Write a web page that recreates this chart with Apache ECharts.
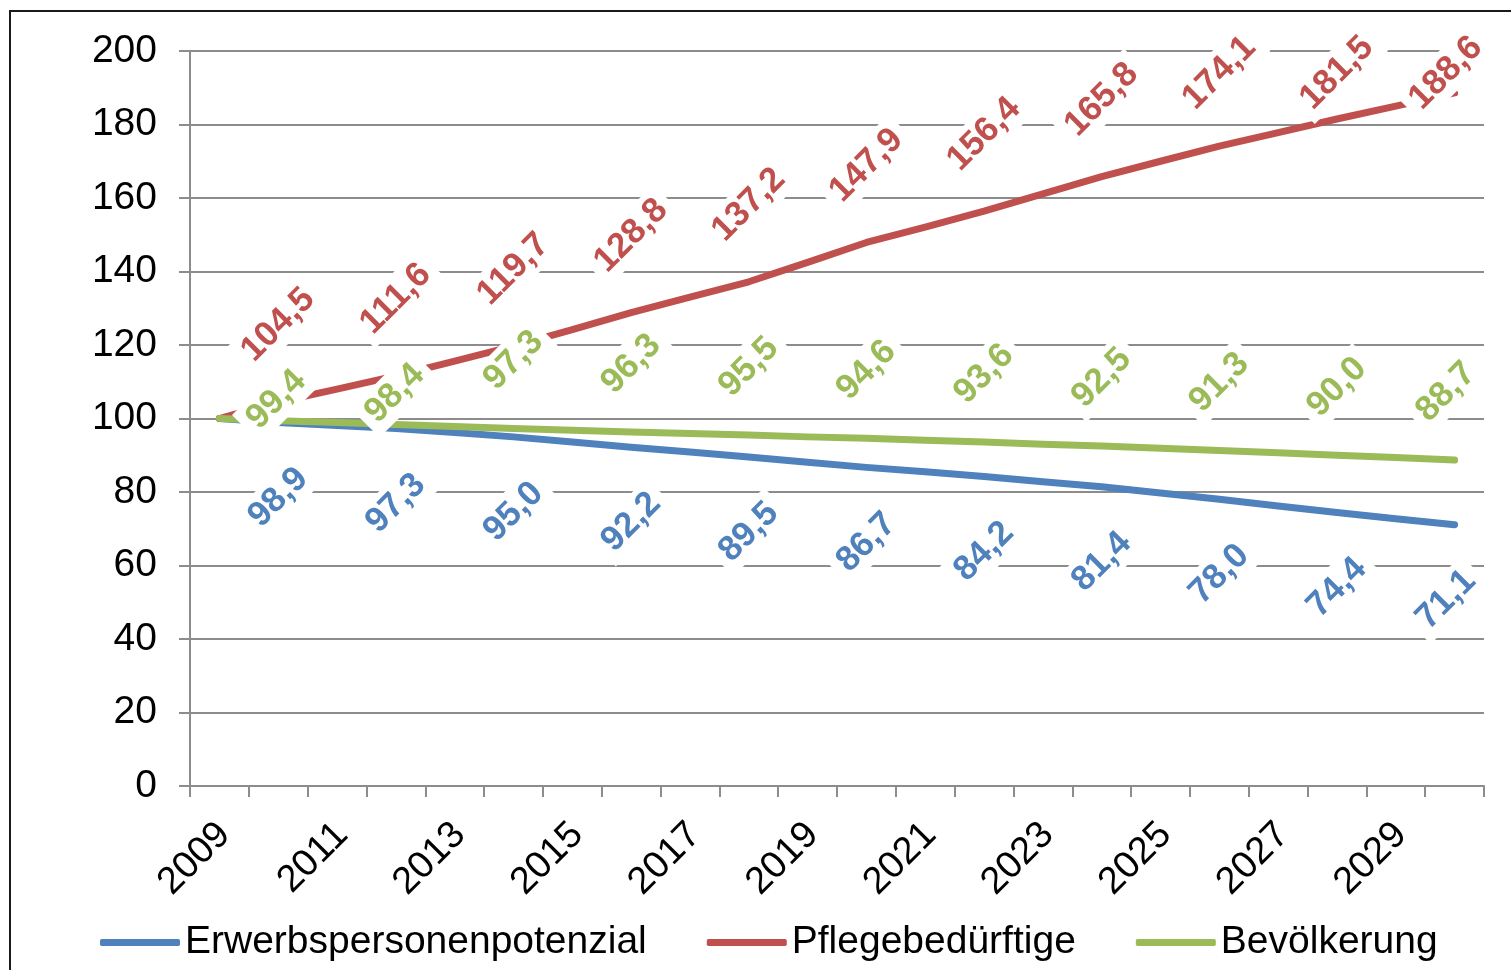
<!DOCTYPE html>
<html>
<head>
<meta charset="utf-8">
<script src="https://cdn.jsdelivr.net/npm/echarts@6/dist/echarts.min.js"></script>
<style>
  html, body { margin: 0; padding: 0; background: #fff; }
  #chart { width: 1511px; height: 970px; }
</style>
</head>
<body>
<div id="chart"></div>
<script>
// Index values (2009 = 100)
const years = ['2009','2010','2011','2012','2013','2014','2015','2016','2017','2018','2019',
               '2020','2021','2022','2023','2024','2025','2026','2027','2028','2029','2030'];
const erwerbspersonen = [100, 98.9, 98.1, 97.3, 96.2, 95.0, 93.6, 92.2, 90.9, 89.5, 88.1,
                         86.7, 85.5, 84.2, 82.8, 81.4, 79.7, 78.0, 76.2, 74.4, 72.7, 71.1];
const pflegebeduerftige = [100, 104.5, 108.0, 111.6, 115.6, 119.7, 124.2, 128.8, 133.0, 137.2, 142.5,
                           147.9, 152.1, 156.4, 161.1, 165.8, 170.0, 174.1, 177.8, 181.5, 185.0, 188.6];
const bevoelkerung = [100, 99.4, 98.9, 98.4, 97.8, 97.3, 96.8, 96.3, 95.9, 95.5, 95.0,
                      94.6, 94.1, 93.6, 93.0, 92.5, 91.9, 91.3, 90.7, 90.0, 89.4, 88.7];
const yTicks = { min: 0, max: 200, step: 20 };

const seriesNames = ['Erwerbspersonenpotenzial', 'Pflegebedürftige', 'Bevölkerung'];
const colors = ['#4F81BD', '#C0504D', '#9BBB59'];
const values = [erwerbspersonen, pflegebeduerftige, bevoelkerung];

const FONT = '"Liberation Sans", Arial, sans-serif';
const GRID = { left: 190, right: 27, top: 51, bottom: 184 };
const LABEL_ROT = 45;

const fmt = v => v.toFixed(1).replace('.', ',');

// value labels sit on every second year, shifted off the line (screen pixels)
const labelShift = [
  () => [0, 75],          // below the blue line
  () => [0, -77],         // above the red line
  (i) => i === 1 ? [-2, -21] : i === 3 ? [-1, -31] : [0, -68]  // above the green line
];

// label offsets are applied in the rotated label frame
function toLabelFrame(dx, dy) {
  const a = LABEL_ROT * Math.PI / 180, c = Math.cos(a), s = Math.sin(a);
  return [dx * c - dy * s, dx * s + dy * c];
}

function labelPoints(k) {
  const pts = [];
  values[k].forEach((v, i) => { if (i % 2 === 1) pts.push({ value: [i, v], idx: i }); });
  return pts;
}

const chart = echarts.init(document.getElementById('chart'), null, { renderer: 'canvas' });

const lineSeries = values.map((arr, k) => ({
  name: seriesNames[k],
  type: 'line',
  data: arr,
  color: colors[k],
  showSymbol: false,
  symbol: 'none',
  lineStyle: { width: 7, color: colors[k], cap: 'round', join: 'round' },
  z: 2,
  silent: true
}));

function labelSeries(offsetFn) {
  return values.map((arr, k) => ({
    name: seriesNames[k] + '-labels',
    type: 'scatter',
    symbolSize: 1,
    itemStyle: { color: 'rgba(0,0,0,0)', opacity: 1 },
    z: 4,
    silent: true,
    data: labelPoints(k).map(p => ({
      value: p.value,
      label: { offset: toLabelFrame.apply(null, offsetFn(k, p)) }
    })),
    label: {
      show: true,
      position: 'inside',
      rotate: LABEL_ROT,
      align: 'center',
      verticalAlign: 'middle',
      color: colors[k],
      opacity: 1,
      fontFamily: FONT,
      fontSize: 35,
      fontWeight: 'bold',
      backgroundColor: '#fff',
      padding: [3, 8],
      formatter: p => fmt(p.value[1])
    }
  }));
}

const option = {
  animation: false,
  backgroundColor: '#fff',
  textStyle: { fontFamily: FONT },
  grid: { left: GRID.left, right: GRID.right, top: GRID.top, bottom: GRID.bottom, containLabel: false },
  legend: {
    data: seriesNames,
    left: 100,
    top: 923,
    padding: 0,
    itemGap: 60,
    itemWidth: 80,
    itemHeight: 7,
    icon: 'roundRect',
    textStyle: { fontFamily: FONT, fontSize: 39, color: '#000' }
  },
  xAxis: {
    type: 'category',
    data: years,
    boundaryGap: true,
    axisLine: { show: true, lineStyle: { color: '#8c8c8c', width: 2 } },
    axisTick: { show: true, interval: 0, length: 11, lineStyle: { color: '#8c8c8c', width: 2 } },
    axisLabel: {
      interval: 1,
      rotate: 45,
      align: 'right',
      verticalAlign: 'top',
      margin: 21,
      padding: [0, 12, 0, 0],
      color: '#000',
      fontFamily: FONT,
      fontSize: 38
    },
    splitLine: { show: false }
  },
  yAxis: {
    type: 'value',
    min: yTicks.min,
    max: yTicks.max,
    interval: yTicks.step,
    axisLine: { show: true, lineStyle: { color: '#8c8c8c', width: 2 } },
    axisTick: { show: true, length: 11, lineStyle: { color: '#8c8c8c', width: 2 } },
    axisLabel: { margin: 33, color: '#000', fontFamily: FONT, fontSize: 39 },
    splitLine: { show: true, lineStyle: { color: '#8c8c8c', width: 2 } }
  },
  graphic: [{
    type: 'rect',
    z: 100,
    silent: true,
    shape: { x: 10, y: 11, width: 1600, height: 1000 },
    style: { fill: 'none', stroke: '#1a1a1a', lineWidth: 2 }
  }],
  series: lineSeries.concat(labelSeries((k, p) => labelShift[k](p.idx)))
};

chart.setOption(option);

// keep the labels inside the plotting area (top and right edge)
const plotTop = GRID.top, plotRight = 1511 - GRID.right;
const clamped = labelSeries((k, p) => {
  const [dx, dy] = labelShift[k](p.idx);
  const px = chart.convertToPixel({ gridIndex: 0 }, p.value);
  let cx = px[0] + dx, cy = px[1] + dy;
  cy = Math.max(cy, plotTop + 22);
  cx = Math.min(cx, plotRight - 38);
  return [cx - px[0], cy - px[1]];
});
chart.setOption({ series: lineSeries.concat(clamped) });
</script>
</body>
</html>
